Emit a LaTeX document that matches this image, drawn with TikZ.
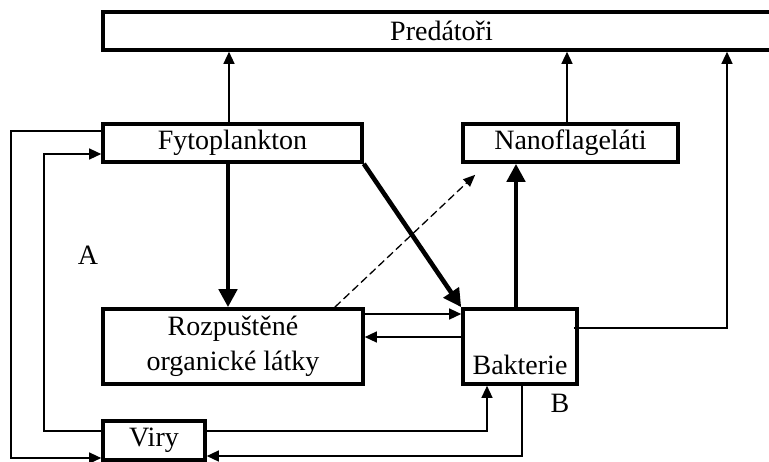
\documentclass[tikz,border=0pt]{standalone}
\usepackage{fontspec}
\setmainfont{Liberation Serif}
\usetikzlibrary{arrows.meta,calc}
\begin{document}
\begin{tikzpicture}[x=0.5pt,y=-0.5pt,
  box/.style={draw,line width=1.8pt,rectangle,inner sep=0pt,font=\fontsize{14}{17.5}\selectfont,align=center},
  thinline/.style={line width=0.65pt},
  thinarrow/.style={thinline,-{Triangle[length=6pt,width=5.5pt]}},
  thickarrow/.style={line width=2.3pt,-{Triangle[length=9pt,width=9pt]}},
  dasharrow/.style={thinline,dash pattern=on 4pt off 2pt,-{Triangle[length=6pt,width=5pt]}},
  lbl/.style={font=\fontsize{14}{17}\selectfont,inner sep=0pt}]
\useasboundingbox (0,0) rectangle (769,461);

\node[box,minimum width=338.5pt,minimum height=19pt] (pred) at (441.5,31) {Predátoři};
\node[box,minimum width=129.5pt,minimum height=19pt] (fyto) at (232.5,143) {Fytoplankton};
\node[box,minimum width=107.5pt,minimum height=19pt] (nano) at (570.5,143) {Nanoflageláti};
\node[box,minimum width=130pt,minimum height=37.5pt] (roz) at (233,346.5) {Rozpuštěné\\organické látky};
\node[box,minimum width=57pt,minimum height=37.5pt] (bak) at (520,346.5) {};
\node[lbl,anchor=base] (baktext) at (520,374) {Bakterie};
\node[box,minimum width=51pt,minimum height=19.5pt] (viry) at (154,440.5) {Viry};
\node[lbl] (A) at (88,255) {A};
\node[lbl] (B) at (560,403) {B};

% to predators
\draw[thinarrow] ($(fyto.north)+(-3.5,0)$) -- ($(fyto.north |- pred.south)+(-3.5,0)$);
\draw[thinarrow] ($(nano.north)+(-3.5,0)$) -- ($(nano.north |- pred.south)+(-3.5,0)$);
\coordinate (rcol) at (727,0);
\draw[thinarrow] ($(bak.east)+(-5,-18.5)$) -| (rcol |- pred.south);

% thick flows
\draw[thickarrow] ($(fyto.south)+(-4.5,0)$) -- ($(fyto.south |- roz.north)+(-4.5,0)$);
\draw[thickarrow] (fyto.south east) -- (bak.north west);
\draw[thickarrow] ($(bak.north)+(-4,0)$) -- ($(bak.north |- nano.south)+(-4,0)$);
\draw[dasharrow] ($(roz.north east)+(-30,0)$) -- ($(nano.south west)+(14,11)$);

% DOM <-> bacteria
\coordinate (r1) at ($(roz.east)+(0,-32.5)$);
\draw[thinarrow] (r1) -- (r1 -| bak.west);
\coordinate (r2) at ($(roz.east)+(0,-9.5)$);
\draw[thinarrow] (r2 -| bak.west) -- (r2);

% left loops
\coordinate (lc1) at (11,0);
\coordinate (lc2) at (44,0);
\draw[thinarrow] ($(fyto.west)+(0,-12)$) -| ($(lc1 |- viry.west)+(0,17.5)$) -- ($(viry.west)+(0,17.5)$);
\draw[thinarrow] ($(viry.west)+(0,-9.5)$) -| ($(lc2 |- fyto.west)+(0,11)$) -- ($(fyto.west)+(0,11)$);

% viry <-> bacteria
\draw[thinarrow] ($(viry.east)+(0,-9.5)$) -| ($(bak.south)+(-33,0)$);
\draw[thinarrow] ($(bak.south)+(2,0)$) |- ($(viry.east)+(0,15.5)$);
\end{tikzpicture}
\end{document}
